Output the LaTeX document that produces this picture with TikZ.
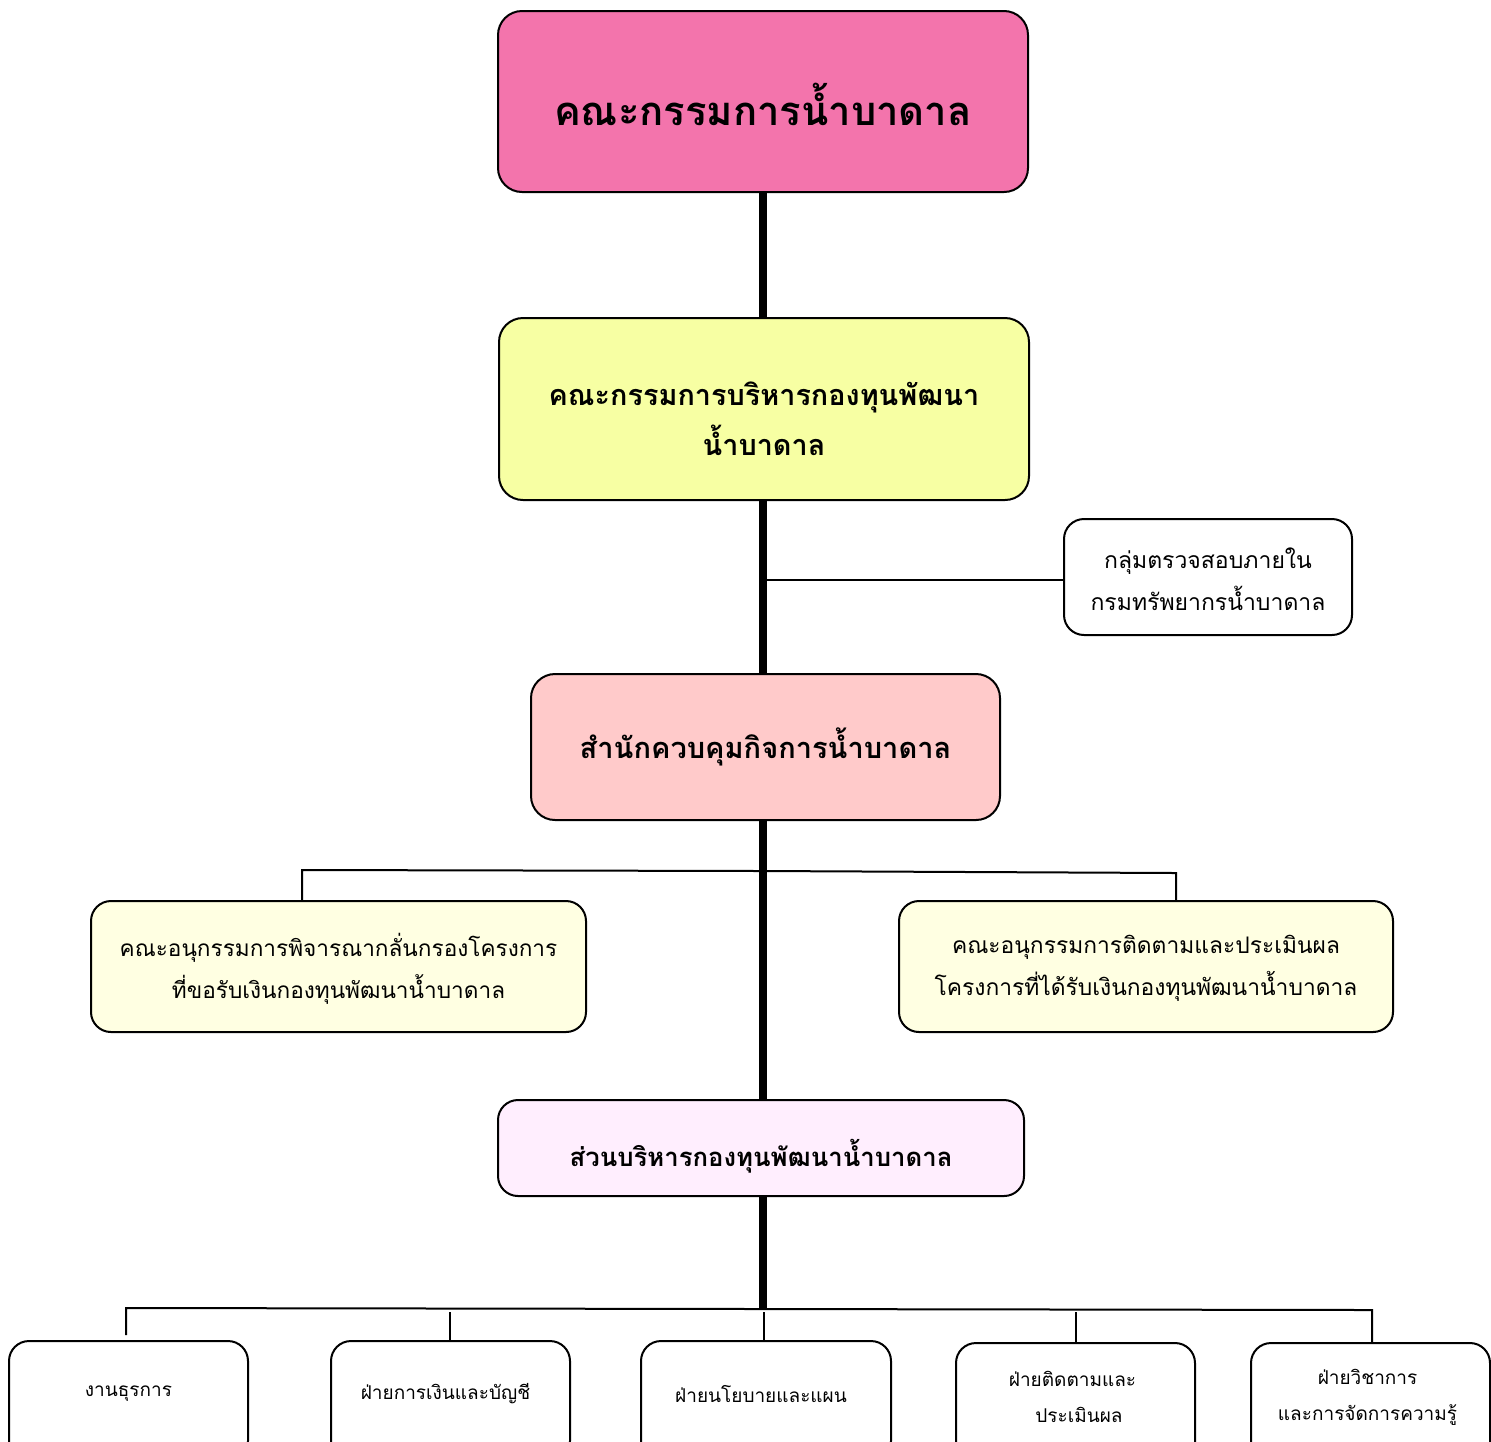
\documentclass[tikz,border=0pt]{standalone}
\usepackage{fontspec}
\setmainfont[Script=Thai]{Loma}
\begin{document}
\begin{tikzpicture}[x=0.5pt,y=-0.5pt,
  box/.style={draw=black, line width=1pt, rounded corners=12pt, inner sep=0pt, anchor=north west},
  txt/.style={align=center, inner sep=0pt},
  spine/.style={line width=4pt},
  link/.style={line width=1pt}]
\definecolor{cTop}{HTML}{F374AC}
\definecolor{cYel}{HTML}{F7FFA3}
\definecolor{cOff}{HTML}{FFCACA}
\definecolor{cSub}{HTML}{FFFFE2}
\definecolor{cDiv}{HTML}{FFEEFE}
\useasboundingbox (0,0) rectangle (1491,1441);
% boxes
\node[box, fill=cTop, minimum width=265pt, minimum height=90.5pt] (top) at (497,10) {};
\node[txt, font=\bfseries\fontsize{20}{24}\selectfont] (topT) at ([yshift=-1.5pt]top.center) {คณะกรรมการน้ำบาดาล};
\node[box, fill=cYel, minimum width=265pt, minimum height=91pt] (board) at (498,317) {};
\node[txt, font=\bfseries\fontsize{14.4}{25}\selectfont] (boardT) at ([yshift=-5pt]board.center) {คณะกรรมการบริหารกองทุนพัฒนา\\น้ำบาดาล};
\node[box, fill=white, rounded corners=10pt, minimum width=144pt, minimum height=58pt] (audit) at (1063,518) {};
\node[txt, font=\fontsize{11.5}{21}\selectfont] (auditT) at ([yshift=-1pt]audit.center) {กลุ่มตรวจสอบภายใน\\กรมทรัพยากรน้ำบาดาล};
\node[box, fill=cOff, minimum width=234.5pt, minimum height=73pt] (office) at (530,673) {};
\node[txt, font=\bfseries\fontsize{14.5}{20}\selectfont] (officeT) at (office.center) {สำนักควบคุมกิจการน้ำบาดาล};
\node[box, fill=cSub, rounded corners=10pt, minimum width=247.5pt, minimum height=65.5pt] (subL) at (90,900) {};
\node[txt, font=\fontsize{11.3}{21}\selectfont] (subLT) at ([yshift=-1pt]subL.center) {คณะอนุกรรมการพิจารณากลั่นกรองโครงการ\\ที่ขอรับเงินกองทุนพัฒนาน้ำบาดาล};
\node[box, fill=cSub, rounded corners=10pt, minimum width=247pt, minimum height=65.5pt] (subR) at (898,900) {};
\node[txt, font=\fontsize{11.4}{21}\selectfont] (subRT) at ([yshift=-1pt]subR.center) {คณะอนุกรรมการติดตามและประเมินผล\\โครงการที่ได้รับเงินกองทุนพัฒนาน้ำบาดาล};
\node[box, fill=cDiv, rounded corners=10pt, minimum width=263pt, minimum height=48pt] (div) at (497,1099) {};
\node[txt, font=\bfseries\fontsize{12.85}{20}\selectfont] (divT) at ([yshift=-4pt]div.center) {ส่วนบริหารกองทุนพัฒนาน้ำบาดาล};
% bottom boxes
\tikzset{unit/.style={box, fill=white, rounded corners=10pt, minimum width=119.5pt, minimum height=60pt},
  unitT/.style={txt, font=\fontsize{9.5}{18}\selectfont}}
\node[unit] (u1) at (8,1340) {};
\node[unitT] (u1T) at ([yshift=3.5pt]u1.center) {งานธุรการ};
\node[unit] (u2) at (330,1340) {};
\node[unitT] (u2T) at ([yshift=3.5pt, xshift=-2.5pt]u2.center) {ฝ่ายการเงินและบัญชี};
\node[unit, minimum width=125pt] (u3) at (640,1340) {};
\node[unitT] (u3T) at ([yshift=3.5pt, xshift=-2.5pt]u3.center) {ฝ่ายนโยบายและแผน};
\node[unit] (u4) at (955,1342) {};
\node[unitT] (u4T) at ([yshift=3pt, xshift=-1.5pt]u4.center) {ฝ่ายติดตามและ\\\ \ ประเมินผล};
\node[unit] (u5) at (1250,1342) {};
\node[unitT] (u5T) at ([yshift=3pt, xshift=-1.5pt]u5.center) {ฝ่ายวิชาการ\\และการจัดการความรู้};
% spine
\coordinate (jAudit) at (763,580);
\coordinate (jSub) at (763,871);
\coordinate (jSubL) at (302,870);
\coordinate (jSubR) at (1176,873);
\coordinate (jU) at (763,1309);
\coordinate (jU1) at (126,1308);
\coordinate (jU5) at (1372,1310);
\draw[spine] (top.south -| jAudit) -- (board.north -| jAudit);
\draw[spine] (board.south -| jAudit) -- (office.north -| jAudit);
\draw[spine] (office.south -| jAudit) -- (div.north -| jAudit);
\draw[spine] (div.south -| jAudit) -- (jU);
\draw[link] (jAudit) -- (audit.west |- jAudit);
\draw[link] (jSubL |- subL.north) -- (jSubL) -- (jSub) -- (jSubR) -- (jSubR |- subR.north);
\draw[link] (jU1 |- 0,1335) -- (jU1) -- (jU) -- (jU5) -- (jU5 |- u5.north);
\draw[link] (450,1312) -- (u2.north -| 450,0);
\draw[link] (764,1312) -- (u3.north -| 764,0);
\draw[link] (1076,1312) -- (u4.north -| 1076,0);
\end{tikzpicture}
\end{document}
